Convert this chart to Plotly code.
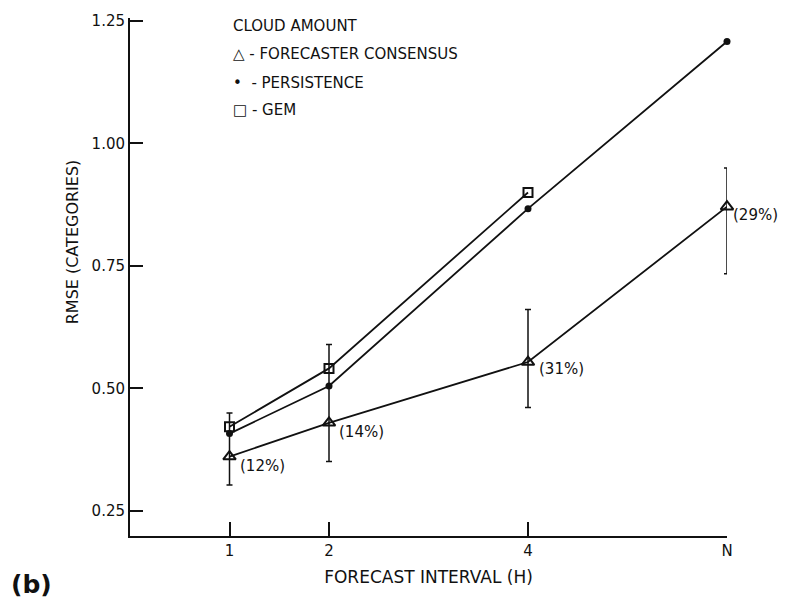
import plotly.graph_objects as go

# ---- data ----
x_hours = [1, 2, 4, 6]
x_ticktext = ["1", "2", "4", "N"]
consensus = [0.361, 0.430, 0.554, 0.871]
consensus_hi = [0.450, 0.590, 0.661, 0.950]
consensus_lo = [0.303, 0.351, 0.461, 0.734]
pct_labels = ["(12%)", "(14%)", "(31%)", "(29%)"]
persistence = [0.408, 0.505, 0.867, 1.208]
gem_x = [1, 2, 4]
gem = [0.422, 0.541, 0.900]
y_ticks = [0.25, 0.50, 0.75, 1.00, 1.25]
y_ticktext = ["0.25", "0.50", "0.75", "1.00", "1.25"]

FONT = "DejaVu Sans"
BLACK = "#111111"

err_plus = [h - m for h, m in zip(consensus_hi, consensus)]
err_minus = [m - l for m, l in zip(consensus, consensus_lo)]

fig = go.Figure()

fig.add_trace(go.Scatter(
    x=gem_x, y=gem, mode="lines+markers",
    line=dict(color=BLACK, width=1.8),
    marker=dict(symbol="square-open", size=9, color=BLACK, line=dict(width=2)),
    showlegend=False, cliponaxis=False,
))
fig.add_trace(go.Scatter(
    x=x_hours, y=persistence, mode="lines+markers",
    line=dict(color=BLACK, width=1.8),
    marker=dict(symbol="circle", size=7, color=BLACK),
    showlegend=False, cliponaxis=False,
))
fig.add_trace(go.Scatter(
    x=x_hours, y=consensus, mode="lines+markers",
    line=dict(color=BLACK, width=1.8),
    marker=dict(symbol="triangle-up-open", size=11, color=BLACK, line=dict(width=2)),
    error_y=dict(type="data", symmetric=False, array=err_plus, arrayminus=err_minus,
                 color=BLACK, thickness=1.5, width=3),
    showlegend=False, cliponaxis=False,
))

# percentage annotations next to consensus points
shifts = [(8, -9), (8, -9), (9, -7), (4, -8)]
for xv, yv, txt, (dx, dy) in zip(x_hours, consensus, pct_labels, shifts):
    fig.add_annotation(x=xv, y=yv, text=txt, showarrow=False, xanchor="left",
                       yanchor="middle", xshift=dx, yshift=dy,
                       font=dict(family=FONT, size=15, color=BLACK))

# legend block as text
legend_lines = [
    ("CLOUD AMOUNT", 22),
    ("△ - FORECASTER CONSENSUS", 50),
    ("•  - PERSISTENCE", 80),
    ("□ - GEM", 107),
]
for txt, ypx in legend_lines:
    fig.add_annotation(xref="paper", yref="paper", x=(231 - 130) / 597,
                       y=(536 - ypx) / 522, text=txt, showarrow=False,
                       xanchor="left", yanchor="middle",
                       font=dict(family=FONT, size=15, color=BLACK))

# y-axis title (placed as annotation to match its vertical position)
fig.add_annotation(xref="paper", yref="paper", x=(72 - 130) / 597, y=(536 - 240) / 522,
                   text="RMSE (CATEGORIES)", textangle=-90, showarrow=False,
                   xanchor="center", yanchor="middle",
                   font=dict(family=FONT, size=16, color=BLACK))

# panel letter
fig.add_annotation(xref="paper", yref="paper", x=(9 - 130) / 597, y=(536 - 585) / 522,
                   text="<b>(b)</b>", showarrow=False, xanchor="left", yanchor="middle",
                   font=dict(family=FONT, size=25, color=BLACK))

fig.update_layout(
    width=789, height=599,
    margin=dict(l=130, r=62, t=14, b=63),
    paper_bgcolor="white", plot_bgcolor="white",
    font=dict(family=FONT, size=13, color=BLACK),
    showlegend=False,
)
fig.update_xaxes(
    range=[0, 6], tickvals=x_hours, ticktext=x_ticktext,
    ticks="inside", ticklen=14, tickwidth=1.5, tickcolor=BLACK,
    showline=True, linecolor=BLACK, linewidth=2, showgrid=False, zeroline=False,
    tickfont=dict(family=FONT, size=15, color=BLACK),
    title=dict(text="FORECAST INTERVAL (H)", standoff=12,
               font=dict(family=FONT, size=17, color=BLACK)),
)
fig.update_yaxes(
    range=[0.199, 1.256], tickvals=y_ticks, ticktext=y_ticktext,
    ticks="inside", ticklen=13, tickwidth=1.5, tickcolor=BLACK,
    showline=True, linecolor=BLACK, linewidth=2, showgrid=False, zeroline=False,
    tickfont=dict(family=FONT, size=15, color=BLACK),
)

fig.write_html("out.html")
